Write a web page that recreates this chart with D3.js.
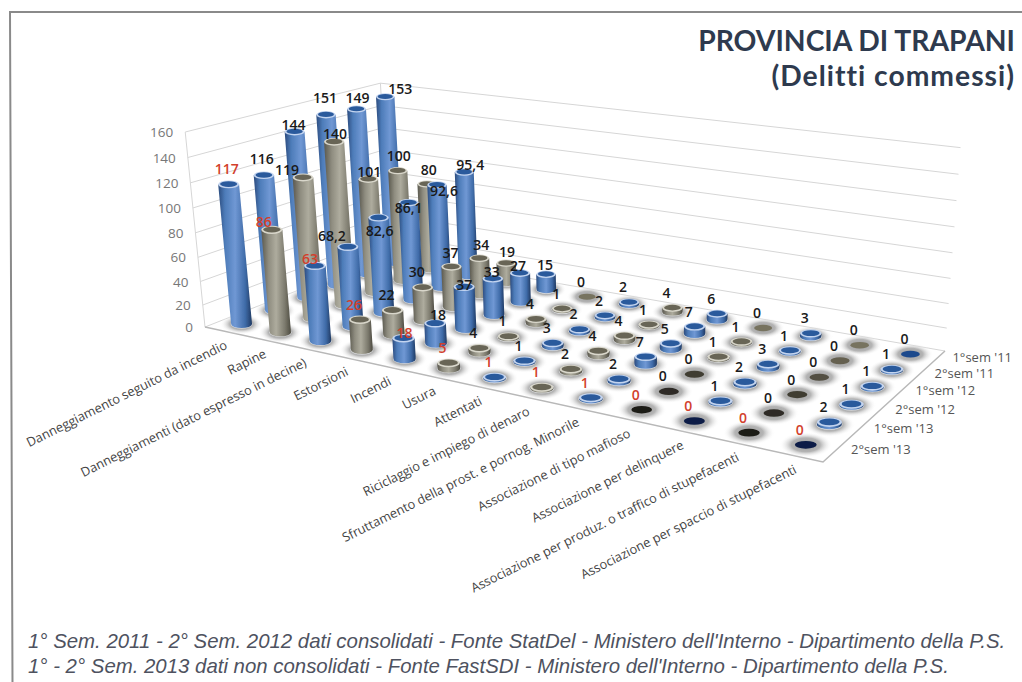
<!DOCTYPE html>
<html>
<head>
<meta charset="utf-8">
<script src="https://cdn.jsdelivr.net/npm/d3@7"></script>
<style>
html,body{margin:0;padding:0;background:#fff;}
svg{display:block;}
text{font-family:"Open Sans",sans-serif;}
</style>
</head>
<body>
<div id="plot"></div>
<script>
var categories = ["Danneggiamento seguito da incendio","Rapine","Danneggiamenti (dato espresso in decine)","Estorsioni","Incendi","Usura","Attentati","Riciclaggio e impiego di denaro","Sfruttamento della prost. e pornog. Minorile","Associazione di tipo mafioso","Associazione per delinquere","Associazione per produz. o traffico di stupefacenti","Associazione per spaccio di stupefacenti"];
var semesters = ["2°sem '13","1°sem '13","2°sem '12","1°sem '12","2°sem '11","1°sem '11"];
var sem2_13 = [117,86,63,26,18,5,1,1,1,0,0,0,0];
var sem1_13 = [116,119,68.2,22,18,4,1,2,2,0,1,0,2];
var sem2_12 = [144,140,82.6,30,37,1,3,4,7,0,2,0,1];
var sem1_12 = [151,101,86.1,37,33,4,2,4,5,1,3,0,1];
var sem2_11 = [149,100,92.6,34,27,1,2,1,7,1,1,0,1];
var sem1_11 = [153,80,95.4,19,15,0,2,4,6,0,3,0,0];
var rows = [sem2_13,sem1_13,sem2_12,sem1_12,sem2_11,sem1_11];
var yTicks = [0,20,40,60,80,100,120,140,160];

var width = 1022, height = 682;

//floor corners of the 3d box: front-left, front-right, back-right, back-left
var floorQuad = [[205,327],[823,462],[945,351],[390,254]];
//verticals all run to one point far below the chart
var vanish = {x:628,y:4500};
var axisHeight = 195;

//heckbert square to quad
function quadMap(q){
    var dx1=q[1][0]-q[2][0], dx2=q[3][0]-q[2][0], sx=q[0][0]-q[1][0]+q[2][0]-q[3][0],
        dy1=q[1][1]-q[2][1], dy2=q[3][1]-q[2][1], sy=q[0][1]-q[1][1]+q[2][1]-q[3][1],
        den=dx1*dy2-dx2*dy1,
        g=(sx*dy2-dx2*sy)/den, h=(dx1*sy-sx*dy1)/den,
        a=q[1][0]-q[0][0]+g*q[1][0], b=q[3][0]-q[0][0]+h*q[3][0],
        d=q[1][1]-q[0][1]+g*q[1][1], e=q[3][1]-q[0][1]+h*q[3][1];
    return function(u,w){
        var k=g*u+h*w+1;
        return {x:(a*u+b*w+q[0][0])/k, y:(d*u+e*w+q[0][1])/k, k:k};
    };
}
var onFloor = quadMap(floorQuad);

var uScale = d3.scaleBand().domain(d3.range(categories.length)).range([0,1]);
var wScale = d3.scaleBand().domain(d3.range(semesters.length)).range([0,1]);
//ticks get a little wider going up, exponent follows the axis labels
var vScale = d3.scalePow().exponent(1.05).domain([0,160]).range([0,axisHeight]);

function project(u,w,v){
    var a=onFloor(u,w), h=vScale(v)/Math.pow(a.k,.9);
    return {x:a.x-h*(vanish.x-a.x)/(vanish.y-a.y), y:a.y-h, k:a.k};
}

var svg = d3.select('#plot').append('svg').attr('width',width).attr('height',height);
var defs = svg.append('defs');

function barGradient(id,stops){
    var g=defs.append('linearGradient').attr('id',id);
    stops.forEach(function(s){ g.append('stop').attr('offset',s[0]).attr('stop-color',s[1]); });
}
barGradient('blueBar',[[0,'#2b4b7e'],[.2,'#4d7cb9'],[.5,'#7098d4'],[.8,'#3f6ba8'],[1,'#1f3962']]);
barGradient('grayBar',[[0,'#5a584e'],[.25,'#8f8d80'],[.5,'#aeac9e'],[.8,'#7b796c'],[1,'#4c4a40']]);

var shadow = defs.append('radialGradient').attr('id','floorShadow');
shadow.append('stop').attr('offset',0).attr('stop-color','#999999');
shadow.append('stop').attr('offset',.55).attr('stop-color','#b4b4b4');
shadow.append('stop').attr('offset',1).attr('stop-color','#ffffff').attr('stop-opacity',0);

defs.append('filter').attr('id','soft').append('feGaussianBlur').attr('stdDeviation',.6);

//frame, only top and left show in the scan
svg.append('path').attr('d','M1022,12L10,12L12.5,682')
    .style('fill','none').style('stroke','#8a8a8a').style('stroke-width',2);

var chart = svg.append('g').attr('class','chart').attr('filter','url(#soft)');

//walls
var wallColor = '#d6d6d6';
yTicks.forEach(function(t){
    var a=project(0,0,t), b=project(0,1,t), c=project(1,1,t);
    chart.append('path').attr('d','M'+a.x+','+a.y+'L'+b.x+','+b.y+'L'+c.x+','+c.y)
        .style('fill','none').style('stroke',wallColor).style('stroke-width',1);
});
[[0,0],[0,1]].forEach(function(p){
    var a=project(p[0],p[1],0), b=project(p[0],p[1],160);
    chart.append('line').attr('x1',a.x).attr('y1',a.y).attr('x2',b.x).attr('y2',b.y).style('stroke',wallColor);
});
//floor front and right edges
(function(){
    var a=project(0,0,0), b=project(1,0,0), c=project(1,1,0);
    chart.append('path').attr('d','M'+a.x+','+a.y+'L'+b.x+','+b.y+'L'+c.x+','+c.y)
        .style('fill','none').style('stroke','#b8b8b8').style('stroke-width',1.5);
})();

//y ticks
yTicks.forEach(function(t){
    var a=project(0,0,t);
    svg.append('text').attr('x',a.x-12).attr('y',a.y+5).attr('text-anchor','end')
        .style('font-size','13.5px').style('fill','#777').text(t);
});

//flatten into cells, back row first
var cells = [];
d3.range(rows.length-1,-1,-1).forEach(function(j){
    rows[j].forEach(function(v,i){ cells.push({i:i,j:j,v:v}); });
});

var uStep = uScale.bandwidth(), wStep = wScale.bandwidth();
var baseRx = 10.5, flat = .38;
//front rows look darker on the zero bars
var zeroShade = d3.scaleLinear().domain([0,5]).range([0,1]);

cells.forEach(function(c){
    var u=uScale(c.i)+uStep/2, w=wScale(c.j)+wStep/2;
    var blue = c.i%2==0;
    var b=project(u,w,0), t=project(u,w,c.v);
    var rx=baseRx/b.k, ry=rx*flat;
    var g=chart.append('g');
    g.append('ellipse').attr('cx',b.x).attr('cy',b.y).attr('rx',rx*2.05).attr('ry',ry*2.6)
        .style('fill','url(#floorShadow)');
    if(c.v>0){
        g.append('ellipse').attr('cx',b.x).attr('cy',b.y).attr('rx',rx*1.04).attr('ry',ry*1.12)
            .style('fill','#e6e8ec');
        g.append('path')
            .attr('d','M'+(t.x-rx)+','+t.y+'L'+(b.x-rx)+','+b.y
                +'A'+rx+','+ry+' 0 0 0 '+(b.x+rx)+','+b.y
                +'L'+(t.x+rx)+','+t.y+'Z')
            .style('fill',blue?'url(#blueBar)':'url(#grayBar)');
        g.append('ellipse').attr('cx',t.x).attr('cy',t.y).attr('rx',rx).attr('ry',ry)
            .style('fill',blue?'#c3d4ef':'#d9d7cb');
        g.append('ellipse').attr('cx',t.x).attr('cy',t.y-.3).attr('rx',rx*.82).attr('ry',ry*.72)
            .style('fill',blue?'#2b5a9c':'#686557');
    }else{
        var inner = blue ? d3.interpolateRgb('#0b1c46','#1f4a8c')(zeroShade(c.j))
                         : d3.interpolateRgb('#1c1a16','#77735f')(zeroShade(c.j));
        g.append('ellipse').attr('cx',t.x).attr('cy',t.y).attr('rx',rx*.85).attr('ry',ry*.8)
            .style('fill',inner);
    }
});

//where the value label centre sits from the bar top, when it is not the default, "row,category"
var labelOffset = {"0,0":[-2,-15],"1,0":[-2,-16],"2,0":[-1,-7],"3,0":[-1,-17],"4,0":[1,-11],"5,0":[15,-8],
    "0,1":[-8,-8],"1,1":[-16,-8],"2,1":[1,-8],"3,1":[1,-7],"4,1":[1,-15],"5,1":[2,-14],
    "0,2":[-5,-7],"1,2":[-16,-11],"2,2":[1,13],"3,2":[0,5],"4,2":[7,6],"5,2":[6,-7],
    "3,3":[-1,-14],"4,3":[2,-13],"5,3":[1,-11],
    "0,4":[1,-5],"1,4":[3,-8],"2,4":[0,-2],"3,4":[-1,-7],"4,4":[-2,-7],"5,4":[-1,-9]};

cells.forEach(function(c){
    var u=uScale(c.i)+uStep/2, w=wScale(c.j)+wStep/2;
    var t=project(u,w,c.v);
    var n=labelOffset[c.j+','+c.i] || [-6,-15];
    svg.append('text')
        .attr('x',t.x+n[0])
        .attr('y',t.y+n[1]+5)
        .attr('text-anchor','middle')
        .style('font-size','14px')
        .style('font-weight',600)
        .style('fill',c.j==0?'#d2402c':'#1a1a1a')
        .text(String(c.v).replace('.',','));
});

//category labels
categories.forEach(function(name,i){
    var p=project(uScale(i)+uStep/2,0,0);
    svg.append('text').attr('text-anchor','end')
        .attr('transform','translate('+(p.x+4)+','+(p.y+17)+') rotate(-26.5)')
        .style('font-size','12.8px').style('fill','#444').text(name);
});

//semester labels
semesters.forEach(function(name,j){
    var p=project(1,wScale(j)+wStep/2,0);
    svg.append('text').attr('x',p.x+16).attr('y',p.y+3)
        .style('font-size','13px').style('fill','#555').text(name);
});

//title and source lines, tighter fonts so the two lines keep the reference pitch
svg.append('text').attr('x',1015).attr('y',51).attr('text-anchor','end')
    .style('font-family','Lato').style('font-size','28.3px').style('font-weight','700').style('fill','#2e3a4e').text('PROVINCIA DI TRAPANI');
svg.append('text').attr('x',1015).attr('y',86).attr('text-anchor','end')
    .style('font-family','Lato').style('font-size','28.3px').style('font-weight','700').style('letter-spacing','1px').style('fill','#2e3a4e').text('(Delitti commessi)');

var notes = ["1° Sem. 2011 - 2° Sem. 2012 dati consolidati - Fonte StatDel - Ministero dell'Interno - Dipartimento della P.S.",
    "1° - 2° Sem. 2013 dati non consolidati - Fonte FastSDI - Ministero dell'Interno - Dipartimento della P.S."];
notes.forEach(function(n,i){
    svg.append('text').attr('x',28).attr('y',648+i*25)
        .style('font-family','"Liberation Sans"').style('font-size','20.4px').style('font-style','italic').style('fill','#4e5260').text(n);
});
</script>
</body>
</html>
